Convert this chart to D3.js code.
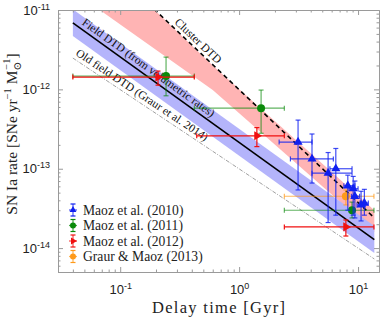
<!DOCTYPE html>
<html lang="en">
<head>
<meta charset="UTF-8">
<title>SN Ia delay time distribution</title>
<script src="https://d3js.org/d3.v7.min.js"></script>
<style>
  body { margin: 0; background: #fff; }
  svg { display: block; font-family: "Liberation Serif", "DejaVu Serif", serif; }
  .axis text { font-size: 13px; fill: #222; }
  .axis path, .axis line { stroke: #9a9a9a; }
  .legend text { font-size: 13.6px; fill: #222; }
  .curve-label { font-size: 11.5px; fill: #111; }
</style>
</head>
<body>
<svg id="chart" width="390" height="318"></svg>
<script>
// ---- data ----
const xTicks = [0.1, 1, 10];
const xTickExp = ["-1", "0", "1"];
const yTicks = [1e-14, 1e-13, 1e-12, 1e-11];
const yTickExp = ["-14", "-13", "-12", "-11"];

// model curves: delay time [Gyr] and rate at the two ends
const fieldT = [0.04, 13.7];
const fieldRate = [6.9e-12, 1.28e-14];
const fieldLo = [4.7e-12, 8.7e-15];
const fieldHi = [1.02e-11, 1.9e-14];

const clusterT = [0.04, 13.7];
const clusterRate = [9.6e-11, 2.4e-14];
const clusterBandT = [0.04, 0.6, 13.7];
const clusterBandLo = [1.74e-11, 9.8e-13, 1.6e-14];
const clusterBandHi = [9.6e-11, 2.0e-12, 3.0e-14];

const oldFieldT = [0.04, 13.7];
const oldFieldRate = [2.48e-12, 7.3e-15];

// measurements: [t, tLow, tHigh, rate, rateLow, rateHigh]
const maoz2010 = [
  [3.13, 2.17, 4.1, 2.17e-13, 5.4e-14, 4.1e-13],
  [4.1, 2.7, 6.2, 1.33e-13, 6.6e-14, 2.74e-13],
  [5.6, 4.1, 8.9, 8.8e-14, 2.1e-14, 1.6e-13],
  [6.5, 5.8, 8.9, 1.0e-13, 2.6e-14, 1.8e-13],
  [8.2, 7.6, 9.4, 6.1e-14, 3.0e-14, 8.3e-14],
  [9.1, 8.4, 10.0, 5.6e-14, 2.6e-14, 8.0e-14],
  [9.4, 8.8, 10.3, 4.5e-14, 2.4e-14, 7.0e-14],
  [10.6, 9.8, 11.5, 3.5e-14, 2.2e-14, 5.2e-14],
  [11.3, 10.4, 12.2, 3.7e-14, 2.6e-14, 5.5e-14]
];
const maoz2011 = [
  [0.243, 0.04, 0.42, 1.47e-12, 8.3e-13, 2.55e-12],
  [1.53, 0.42, 2.4, 5.8e-13, 2.8e-13, 9.8e-13],
  [8.9, 2.4, 13.6, 3.0e-14, 2.4e-14, 3.8e-14]
];
const maoz2012 = [
  [0.208, 0.04, 0.42, 1.43e-12, 1.13e-12, 1.7e-12],
  [1.41, 0.44, 2.4, 2.6e-13, 1.9e-13, 3.3e-13],
  [7.9, 2.4, 13.6, 1.85e-14, 1.42e-14, 2.26e-14]
];
const graur2013 = [
  [7.9, 2.4, 13.6, 4.5e-14, 3.5e-14, 5.4e-14]
];

const seriesNames = ["Maoz et al. (2010)", "Maoz et al. (2011)", "Maoz et al. (2012)", "Graur & Maoz (2013)"];

// ---- layout ----
const svg = d3.select("#chart");
const pL = 58, pR = 379, pT = 10, pB = 272;

const x = d3.scaleLog().domain([0.03, 15]).range([pL, pR]);
const y = d3.scaleLog().domain([5e-15, 1e-11]).range([pB, pT]);

svg.append("defs").append("clipPath").attr("id", "clip")
  .append("rect").attr("x", pL).attr("y", pT)
  .attr("width", pR - pL).attr("height", pB - pT);

const plot = svg.append("g").attr("clip-path", "url(#clip)");

// bands
function band(ts, lo, hi, color) {
  const area = d3.area()
    .x((d, i) => x(ts[i]))
    .y0((d, i) => y(lo[i]))
    .y1((d, i) => y(hi[i]));
  plot.append("path").attr("d", area(ts)).attr("fill", color);
}
band(clusterBandT, clusterBandLo, clusterBandHi, "#ffb4b4");
band(fieldT, fieldLo, fieldHi, "#b4b4fb");

// lines
function curve(ts, rates, stroke, width, dash) {
  const line = d3.line().x((d, i) => x(ts[i])).y((d, i) => y(rates[i]));
  plot.append("path").attr("d", line(ts))
    .attr("fill", "none").attr("stroke", stroke)
    .attr("stroke-width", width).attr("stroke-dasharray", dash);
}
curve(oldFieldT, oldFieldRate, "#777", 0.7, "4,1.5,1,1.5");
curve(fieldT, fieldRate, "#000", 1.6, null);
curve(clusterT, clusterRate, "#000", 1.6, "4.5,3.5");

// labels along the lines
function curveLabel(ts, rates, tStart, text, offset) {
  const x0 = x(ts[0]), y0 = y(rates[0]), x1 = x(ts[1]), y1 = y(rates[1]);
  const slope = (y1 - y0) / (x1 - x0);
  const ang = Math.atan(slope) * 180 / Math.PI;
  const px = x(tStart), py = y0 + slope * (px - x0);
  svg.append("text").attr("class", "curve-label")
    .attr("transform", `translate(${px},${py}) rotate(${ang}) translate(0,${-offset})`)
    .text(text);
}
curveLabel(fieldT, fieldRate, 0.045, "Field DTD (from volumetric rates)", 4);
curveLabel(oldFieldT, oldFieldRate, 0.04, "Old field DTD (Graur et al. 2014)", 4);
curveLabel(clusterT, clusterRate, 0.27, "Cluster DTD", 3.5);

// data points with error bars
const triUp = d3.symbol(d3.symbolTriangle, 36)();
const circ = d3.symbol(d3.symbolCircle, 50)();

function errSeries(rows, color, shape, rot, alpha) {
  const g = svg.append("g").attr("clip-path", "url(#clip)");
  const bars = g.selectAll("g.pt").data(rows).join("g").attr("class", "pt")
    .attr("stroke", color).attr("stroke-width", 1.2).attr("stroke-opacity", alpha);
  bars.append("line")
    .attr("x1", d => x(d[1])).attr("x2", d => x(d[2]))
    .attr("y1", d => y(d[3])).attr("y2", d => y(d[3]));
  bars.append("line")
    .attr("x1", d => x(d[0])).attr("x2", d => x(d[0]))
    .attr("y1", d => y(d[4])).attr("y2", d => y(d[5]));
  // caps
  [1, 2].forEach(k => bars.append("line")
    .attr("x1", d => x(d[k])).attr("x2", d => x(d[k]))
    .attr("y1", d => y(d[3]) - 2.5).attr("y2", d => y(d[3]) + 2.5));
  [4, 5].forEach(k => bars.append("line")
    .attr("x1", d => x(d[0]) - 2.5).attr("x2", d => x(d[0]) + 2.5)
    .attr("y1", d => y(d[k])).attr("y2", d => y(d[k])));
  g.selectAll("path.mk").data(rows).join("path").attr("class", "mk")
    .attr("d", shape).attr("fill", color)
    .attr("transform", d => `translate(${x(d[0])},${y(d[3])}) rotate(${rot})`);
}
errSeries(maoz2011, "#0a8a0a", circ, 0, 0.65);
errSeries(maoz2012, "#f01010", triUp, 90, 1);
errSeries(graur2013, "#ff9a1a", circ, 0, 0.7);
errSeries(maoz2010, "#1020f0", triUp, 0, 0.8);

// ---- axes and frame ----
const minorX = x.ticks().filter(v => !xTicks.some(t => Math.abs(t - v) / t < 1e-6));
const minorY = y.ticks().filter(v => !yTicks.some(t => Math.abs(t - v) / t < 1e-6));

function supLabel(sel, exps) {
  sel.each(function(d, i) {
    const t = d3.select(this).text("");
    t.append("tspan").text("10");
    t.append("tspan").attr("dy", -5).attr("font-size", 9).text(exps[i]);
  });
}

const gx = svg.append("g").attr("class", "axis").attr("transform", `translate(0,${pB})`)
  .call(d3.axisBottom(x).tickValues(xTicks).tickSize(-5).tickPadding(13));
gx.selectAll(".tick text").call(supLabel, xTickExp);
svg.append("g").attr("class", "axis").attr("transform", `translate(0,${pT})`)
  .call(d3.axisTop(x).tickValues(xTicks).tickSize(-5).tickFormat(""));
svg.append("g").attr("class", "axis").attr("transform", `translate(0,${pB})`)
  .call(d3.axisBottom(x).tickValues(minorX).tickSize(-2.5).tickFormat("")).select(".domain").remove();
svg.append("g").attr("class", "axis").attr("transform", `translate(0,${pT})`)
  .call(d3.axisTop(x).tickValues(minorX).tickSize(-2.5).tickFormat("")).select(".domain").remove();

const gy = svg.append("g").attr("class", "axis").attr("transform", `translate(${pL},0)`)
  .call(d3.axisLeft(y).tickValues(yTicks).tickSize(-5).tickPadding(8));
gy.selectAll(".tick text").call(supLabel, yTickExp);
svg.append("g").attr("class", "axis").attr("transform", `translate(${pR},0)`)
  .call(d3.axisRight(y).tickValues(yTicks).tickSize(-5).tickFormat(""));
svg.append("g").attr("class", "axis").attr("transform", `translate(${pL},0)`)
  .call(d3.axisLeft(y).tickValues(minorY).tickSize(-2.5).tickFormat("")).select(".domain").remove();
svg.append("g").attr("class", "axis").attr("transform", `translate(${pR},0)`)
  .call(d3.axisRight(y).tickValues(minorY).tickSize(-2.5).tickFormat("")).select(".domain").remove();

// axis titles
svg.append("text").attr("x", (pL + pR) / 2).attr("y", 312.5)
  .attr("text-anchor", "middle").attr("font-size", 16.5).attr("fill", "#222")
  .attr("textLength", 133).attr("lengthAdjust", "spacing")
  .text("Delay time [Gyr]");

const yl = svg.append("text").attr("transform", `translate(17,${(pT + pB) / 2 - 7}) rotate(-90)`)
  .attr("text-anchor", "middle").attr("font-size", 15.5).attr("fill", "#222");
yl.append("tspan").text("SN Ia rate [SNe yr");
yl.append("tspan").attr("dy", -6).attr("font-size", 10.5).text("−1");
yl.append("tspan").attr("dy", 6).text(" M");
yl.append("tspan").attr("dy", 4).attr("font-size", 10.5).text("⊙");
yl.append("tspan").attr("dx", -8).attr("dy", -11).attr("font-size", 10.5).text("−1");
yl.append("tspan").attr("dy", 7).text("]");

// ---- legend ----
const legendColors = ["#1020f0", "#0a8a0a", "#f01010", "#ff9a1a"];
const legendShapes = [triUp, circ, triUp, circ];
const legendRot = [0, 0, 90, 0];
const lg = svg.append("g").attr("class", "legend");
const items = lg.selectAll("g").data(seriesNames).join("g")
  .attr("transform", (d, i) => `translate(73,${210 + i * 15.5})`);
items.append("line").attr("y1", -6).attr("y2", 6)
  .attr("stroke", (d, i) => legendColors[i]).attr("stroke-width", 1.2).attr("stroke-opacity", 0.75);
items.append("line").attr("x1", -4).attr("x2", 4)
  .attr("stroke", (d, i) => legendColors[i]).attr("stroke-width", 1.2).attr("stroke-opacity", 0.75);
items.append("line").attr("x1", -2.5).attr("x2", 2.5).attr("y1", -6).attr("y2", -6)
  .attr("stroke", (d, i) => legendColors[i]).attr("stroke-width", 1.2);
items.append("line").attr("x1", -2.5).attr("x2", 2.5).attr("y1", 6).attr("y2", 6)
  .attr("stroke", (d, i) => legendColors[i]).attr("stroke-width", 1.2);
items.append("path").attr("d", (d, i) => legendShapes[i])
  .attr("transform", (d, i) => `rotate(${legendRot[i]}) scale(0.75)`)
  .attr("fill", (d, i) => legendColors[i]);
items.append("text").attr("x", 10).attr("dy", "0.35em").text(d => d);
</script>
</body>
</html>
